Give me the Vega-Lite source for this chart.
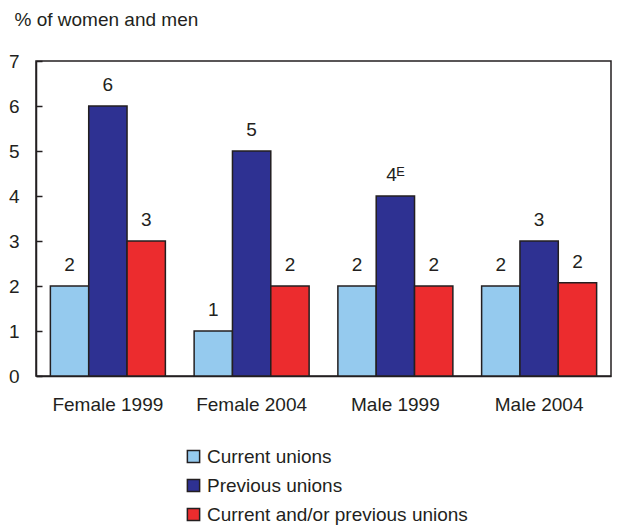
{
  "$schema": "https://vega.github.io/schema/vega-lite/v6.json",
  "autosize": "none",
  "width": 575,
  "height": 315,
  "padding": {"left": 36, "top": 61, "right": 8, "bottom": 149},
  "config": {
    "font": "Liberation Sans",
    "view": {"stroke": "#231F20", "strokeWidth": 1.5},
    "axis": {"grid": false, "labelFont": "Liberation Sans", "labelColor": "#231F20", "labelFontSize": 19, "domainColor": "#231F20", "domainWidth": 1.5, "tickColor": "#231F20", "tickWidth": 1.5}
  },
  "data": {
    "values": [
      {"group": "Female 1999", "series": "Current unions", "value": 2, "label": "2"},
      {"group": "Female 1999", "series": "Previous unions", "value": 6, "label": "6"},
      {"group": "Female 1999", "series": "Current and/or previous unions", "value": 3, "label": "3"},
      {"group": "Female 2004", "series": "Current unions", "value": 1, "label": "1"},
      {"group": "Female 2004", "series": "Previous unions", "value": 5, "label": "5"},
      {"group": "Female 2004", "series": "Current and/or previous unions", "value": 2, "label": "2"},
      {"group": "Male 1999", "series": "Current unions", "value": 2, "label": "2"},
      {"group": "Male 1999", "series": "Previous unions", "value": 4, "label": "4ᴱ"},
      {"group": "Male 1999", "series": "Current and/or previous unions", "value": 2, "label": "2"},
      {"group": "Male 2004", "series": "Current unions", "value": 2, "label": "2"},
      {"group": "Male 2004", "series": "Previous unions", "value": 3, "label": "3"},
      {"group": "Male 2004", "series": "Current and/or previous unions", "value": 2.07, "label": "2"}
    ]
  },
  "encoding": {
    "x": {"field": "group", "type": "nominal", "sort": null,
      "scale": {"paddingInner": 0.2, "paddingOuter": 0.1},
      "axis": {"title": null, "labelAngle": 0, "ticks": false, "labelPadding": 19, "domain": true}},
    "xOffset": {"field": "series", "type": "nominal", "sort": ["Current unions", "Previous unions", "Current and/or previous unions"], "scale": {"paddingInner": 0, "paddingOuter": 0}},
    "y": {"field": "value", "type": "quantitative",
      "scale": {"domain": [0, 7], "nice": false},
      "axis": {"values": [0,1,2,3,4,5,6,7], "tickSize": -6, "labelPadding": 23,
        "title": "% of women and men", "titleAngle": 0, "titleAlign": "left", "titleBaseline": "alphabetic",
        "titleX": -22, "titleY": -36, "titleFontSize": 19, "titleFontWeight": "normal", "titleColor": "#231F20", "titleFont": "Liberation Sans"}}
  },
  "layer": [
    {
      "mark": {"type": "bar", "stroke": "#231F20", "strokeWidth": 1.5},
      "encoding": {
        "color": {"field": "series", "type": "nominal", "sort": ["Current unions", "Previous unions", "Current and/or previous unions"],
          "scale": {"domain": ["Current unions", "Previous unions", "Current and/or previous unions"], "range": ["#95CAEE", "#2E3192", "#EC2C2E"]},
          "legend": {"title": null, "orient": "none", "legendX": 148, "legendY": 386, "symbolType": "square", "symbolSize": 150, "symbolStrokeColor": "#231F20", "symbolStrokeWidth": 1.5, "labelFontSize": 19, "labelColor": "#231F20", "labelFont": "Liberation Sans", "labelLimit": 400, "rowPadding": 9, "labelOffset": 4}}
      }
    },
    {
      "mark": {"type": "text", "baseline": "alphabetic", "dy": -15, "fontSize": 19, "color": "#231F20", "font": "Liberation Sans"},
      "encoding": {"text": {"field": "label"}}
    }
  ]
}
